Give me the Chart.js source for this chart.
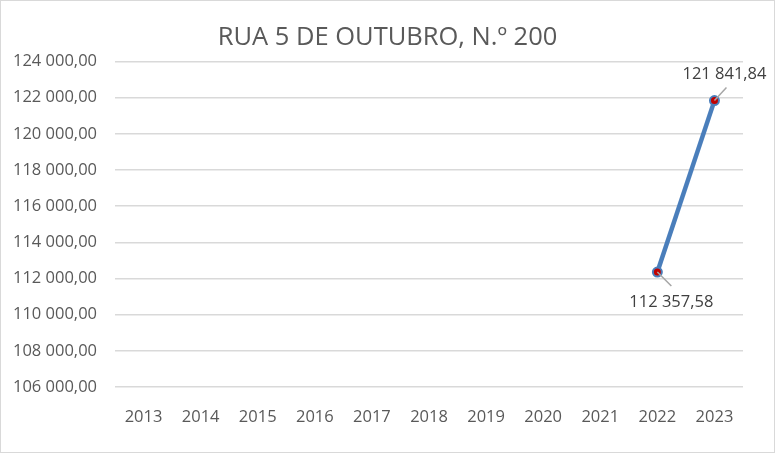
<!DOCTYPE html>
<html>
<head>
<meta charset="utf-8">
<script src="https://cdn.jsdelivr.net/npm/chart.js@4/dist/chart.umd.min.js"></script>
<style>
html,body{margin:0;padding:0;background:#fff;}
#wrap{width:775px;height:453px;position:relative;}
</style>
</head>
<body>
<div id="wrap"><canvas id="c" width="775" height="453"></canvas></div>
<script>
const chartTitle = 'RUA 5 DE OUTUBRO, N.º 200';
const years = ['2013','2014','2015','2016','2017','2018','2019','2020','2021','2022','2023'];
const values = [null,null,null,null,null,null,null,null,null,112357.58,121841.84];
const yMin = 106000, yMax = 124000, yStep = 2000;

function fmt(v){
  const s = v.toFixed(2).split('.');
  const int = s[0].replace(/\B(?=(\d{3})+(?!\d))/g, '\u00a0');
  return int + ',' + s[1];
}

const FONT = "'Open Sans', 'Liberation Sans', sans-serif";
const TXT = '#595959';
const FS = 16.5;

const borderPlugin = {
  id:'border',
  afterDraw(chart){
    const ctx = chart.ctx;
    ctx.save();
    ctx.strokeStyle = '#d9d9d9';
    ctx.lineWidth = 1;
    ctx.strokeRect(0.5,0.5,chart.width-1,chart.height-1);
    ctx.restore();
  }
};

const labelPlugin = {
  id:'dlabels',
  afterDatasetsDraw(chart){
    const ctx = chart.ctx;
    const meta = chart.getDatasetMeta(0);
    const offs = {9:{lx:14,ly:14,tx:14,ty:30,align:'center'}, 10:{lx:12,ly:-13,tx:-32,ty:-26,align:'left'}};
    ctx.save();
    meta.data.forEach((pt,i)=>{
      if(values[i]==null) return;
      const o = offs[i];
      ctx.strokeStyle = '#a6a6a6';
      ctx.lineWidth = 1.5;
      ctx.beginPath();
      ctx.moveTo(pt.x, pt.y);
      ctx.lineTo(pt.x+o.lx, pt.y+o.ly);
      ctx.stroke();
      ctx.fillStyle = '#404040';
      ctx.font = FS + 'px ' + FONT;
      ctx.textAlign = o.align;
      ctx.textBaseline = 'middle';
      ctx.fillText(fmt(values[i]), pt.x+o.tx, pt.y+o.ty);
    });
    ctx.restore();
  }
};

new Chart(document.getElementById('c'), {
  type:'line',
  data:{
    labels: years,
    datasets:[{
      data: values,
      borderColor:'#4a7ebb',
      borderWidth:4.5,
      pointRadius:4.5,
      pointBackgroundColor:'#c00000',
      pointBorderColor:'#4a7ebb',
      pointBorderWidth:2,
      tension:0,
      spanGaps:false
    }]
  },
  options:{
    responsive:false,
    animation:false,
    devicePixelRatio:1,
    layout:{padding:0},
    plugins:{
      legend:{display:false},
      tooltip:{enabled:false},
      title:{
        display:true,
        text:chartTitle,
        color:TXT,
        font:{family:FONT,size:25.5,weight:'normal'},
        padding:{top:22,bottom:9}
      }
    },
    scales:{
      x:{
        offset:true,
        grid:{display:false},
        border:{display:false},
        ticks:{color:TXT,font:{family:FONT,size:FS},padding:12,maxRotation:0,autoSkip:false},
        afterFit(a){ a.height = 66; }
      },
      y:{
        min:yMin,max:yMax,
        grid:{color:'#d9d9d9',lineWidth:1.5,drawTicks:false},
        border:{display:false},
        ticks:{stepSize:yStep,color:TXT,font:{family:FONT,size:FS},padding:18,callback:(v)=>fmt(v)},
        afterFit(a){ a.width = 115; }
      },
      yr:{
        position:'right',
        min:yMin,max:yMax,
        grid:{display:false},
        border:{display:false},
        ticks:{display:false},
        afterFit(a){ a.width = 32; }
      }
    }
  },
  plugins:[borderPlugin,labelPlugin]
});
</script>
</body>
</html>
